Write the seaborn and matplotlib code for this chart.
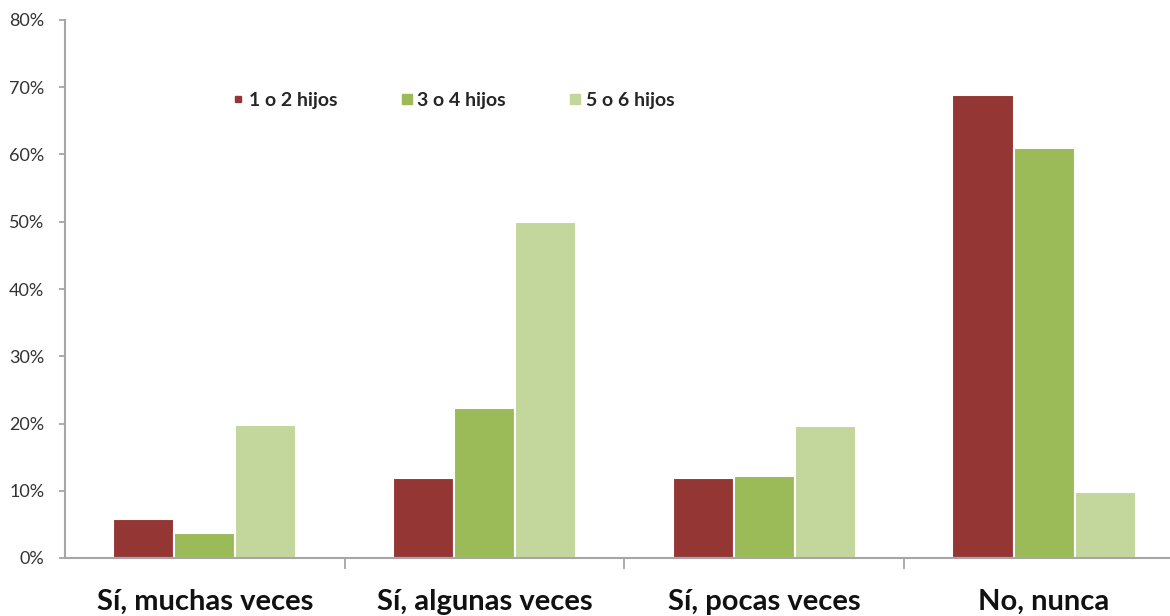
import matplotlib
matplotlib.use("Agg")
import matplotlib.pyplot as plt
from matplotlib.lines import Line2D
from matplotlib.ticker import FuncFormatter, MultipleLocator
import seaborn as sns
import pandas as pd

categories = ["Sí, muchas veces", "Sí, algunas veces", "Sí, pocas veces", "No, nunca"]
series_names = ["1 o 2 hijos", "3 o 4 hijos", "5 o 6 hijos"]
vals_1_2 = [5.8, 11.9, 11.9, 68.8]
vals_3_4 = [3.7, 22.3, 12.2, 60.9]
vals_5_6 = [19.8, 49.9, 19.7, 9.8]
colors = ["#943634", "#9BBB59", "#C3D69B"]

rows = []
for name, vals in zip(series_names, [vals_1_2, vals_3_4, vals_5_6]):
    for c, v in zip(categories, vals):
        rows.append({"cat": c, "serie": name, "val": v})
df = pd.DataFrame(rows)

sns.set_theme(style="white")
plt.rcParams["font.family"] = ["Lato", "DejaVu Sans"]

fig = plt.figure(figsize=(11.7, 6.16), dpi=100)
ax = fig.add_axes([65/1170, 1-558/616, (1170-65)/1170, (558-20)/616])

sns.barplot(data=df, x="cat", y="val", hue="serie", palette=colors,
            order=categories, hue_order=series_names, width=0.655, gap=0,
            saturation=1, edgecolor="white", linewidth=1.5, ax=ax, legend=False)

ax.set_xlim(-0.5, 3.45)
ax.set_ylim(0, 80)
ax.yaxis.set_major_locator(MultipleLocator(10))
ax.yaxis.set_major_formatter(FuncFormatter(lambda v, p: f"{int(v)}%"))
ax.set_xlabel("")
ax.set_ylabel("")

for s in ["top", "right"]:
    ax.spines[s].set_visible(False)
for s in ["left", "bottom"]:
    ax.spines[s].set_color("#A6A6A6")
    ax.spines[s].set_linewidth(1.5)

ax.tick_params(axis="y", which="major", left=True, length=4, width=1.3,
               color="#A6A6A6", labelsize=13, labelcolor="#333333", pad=11)
ax.set_xticks([0, 1, 2, 3])
ax.set_xticklabels(categories, fontsize=21, fontweight="bold", color="#111111")
ax.tick_params(axis="x", which="major", length=0, pad=22)
ax.set_xticks([0.5, 1.5, 2.5], minor=True)
ax.tick_params(axis="x", which="minor", bottom=True, length=8, width=1.3,
               color="#A6A6A6")

handles = [Line2D([], [], marker="s", linestyle="none", markersize=ms,
                  markerfacecolor=c, markeredgecolor=c)
           for c, ms in zip(colors, [5, 7, 7])]
leg = ax.legend(handles, series_names, ncol=3, frameon=False,
                loc="center left", bbox_to_anchor=((213-65)/1105, (558-100)/538),
                columnspacing=3.15, handletextpad=0.15, handlelength=0.8,
                prop={"family": ["Lato", "DejaVu Sans"], "weight": "bold", "size": 14})

fig.savefig("out.png", dpi=100)
